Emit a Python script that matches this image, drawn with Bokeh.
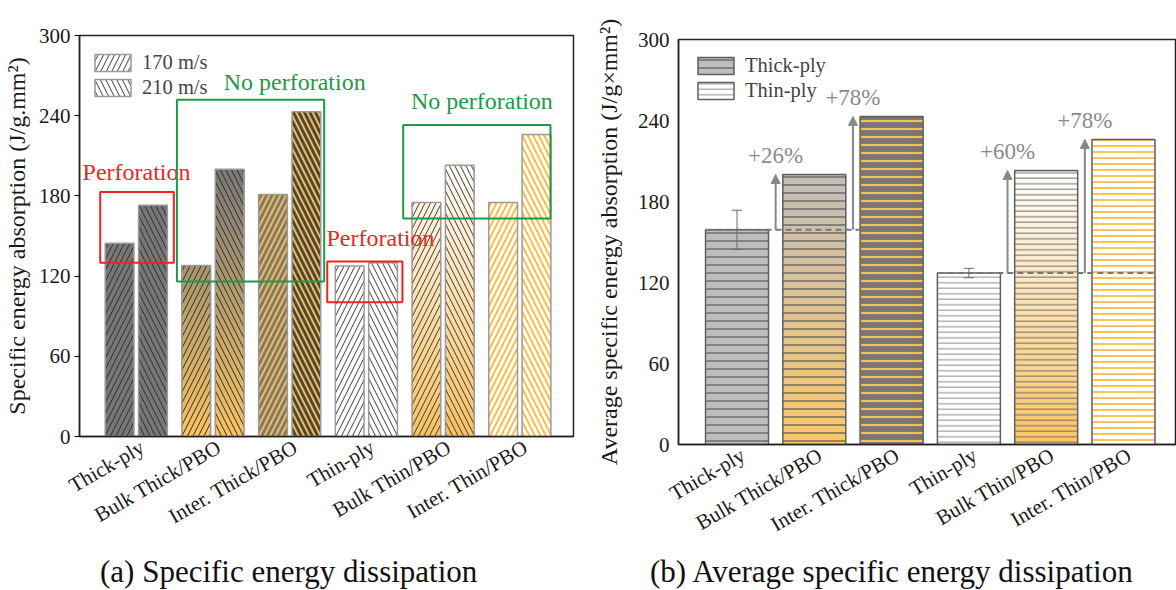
import math
from bokeh.plotting import figure
from bokeh.models import (Range1d, FixedTicker, Legend, LegendItem, BoxAnnotation,
                          ColumnDataSource, Whisker, TeeHead, Arrow, NormalHead, Label,
                          Spacer, Div)
from bokeh.layouts import row, column
from bokeh.embed import file_html
from bokeh.resources import INLINE

FONT = "Liberation Serif"

# ---------------- data ----------------
categories = ["Thick-ply", "Bulk Thick/PBO", "Inter. Thick/PBO",
              "Thin-ply", "Bulk Thin/PBO", "Inter. Thin/PBO"]
sea_170 = [144.5, 128, 181, 127.5, 175, 175]
sea_210 = [173, 200, 243, 130, 203, 226]
avg_sea = [159, 200, 243, 127, 203, 226]
avg_err = [14.5, 0, 0, 3.5, 0, 0]
gain_labels = ["+26%", "+78%", "+60%", "+78%"]
gain_bases = [0, 0, 3, 3]
gain_targets = [1, 2, 4, 5]
y_ticks = [0, 60, 120, 180, 240, 300]
speed_labels = ["170 m/s", "210 m/s"]
ply_labels = ["Thick-ply", "Thin-ply"]
perf_groups = [[0], [3]]
noperf_groups = [[1, 2], [4, 5]]
captions = ["(a) Specific energy dissipation", "(b) Average specific energy dissipation"]
y_titles = ["Specific energy absorption (J/g.mm\u00b2)",
            "Average specific energy absorption (J/g\u00d7mm\u00b2)"]

LABEL_SHIFT = 0.08  # horizontal nudge of the rotated category labels
BOTTOM = 110        # bottom border of both figures (room for rotated labels)


def hex2rgb(h):
    h = h.lstrip("#")
    return tuple(int(h[i:i + 2], 16) for i in (0, 2, 4))


def lerp(c0, c1, t):
    a, b = hex2rgb(c0), hex2rgb(c1)
    return "#%02x%02x%02x" % tuple(int(round(a[k] + (b[k] - a[k]) * t)) for k in range(3))


def gradient_bars(p, xs, tops, width, c_bottom, c_top, H, n=48):
    x, b, t, c = [], [], [], []
    for xi, top in zip(xs, tops):
        for k in range(n):
            x.append(xi)
            b.append(top * k / n)
            t.append(top)
            c.append(lerp(c_bottom, c_top, min(1.0, (top * (k + 0.5) / n) / H)))
    src = ColumnDataSource(dict(x=x, bottom=b, top=t, color=c))
    p.vbar(x="x", bottom="bottom", top="top", width=width, fill_color="color",
           line_color=None, source=src)


def bar(p, xs, tops, width, fill, hatch, hcolor, hscale, hweight, lcolor, lwidth):
    src = ColumnDataSource(dict(x=xs, top=tops))
    return p.vbar(x="x", top="top", width=width, source=src,
                  fill_color=fill, fill_alpha=1.0 if fill else 0.0,
                  hatch_pattern=hatch, hatch_color=hcolor, hatch_scale=hscale,
                  hatch_weight=hweight, line_color=lcolor, line_width=lwidth)


def style_axes(p, label_pad, ticks_out, title_pad):
    p.xgrid.visible = False
    p.ygrid.visible = False
    p.outline_line_color = "#222222"
    p.outline_line_width = 1.5
    for ax in (p.xaxis, p.yaxis):
        ax.axis_line_color = "#222222"
        ax.axis_line_width = 1.5
        ax.minor_tick_line_color = None
        ax.major_label_text_font = FONT
        ax.major_label_text_font_size = "21px"
        ax.major_label_text_color = "#1a1a1a"
        ax.axis_label_text_font = FONT
        ax.axis_label_text_font_size = "24px"
        ax.axis_label_text_font_style = "normal"
        ax.axis_label_text_color = "#1a1a1a"
    ticks = [i + LABEL_SHIFT for i in range(len(categories))]
    p.xaxis.ticker = FixedTicker(ticks=ticks)
    p.xaxis.major_label_overrides = {t: c for t, c in zip(ticks, categories)}
    p.xaxis.major_label_orientation = math.pi / 6
    p.xaxis.major_tick_line_color = None
    p.xaxis.major_label_standoff = 3
    p.yaxis.ticker = FixedTicker(ticks=y_ticks)
    p.yaxis.major_tick_out = ticks_out
    p.yaxis.major_tick_in = 0
    if ticks_out == 0:
        p.yaxis.major_tick_line_color = None
    p.yaxis.major_label_standoff = label_pad
    p.yaxis.axis_label_standoff = title_pad


def caption_div(text, pad_left):
    return Div(text=text, width=588, height=36, margin=0,
               styles={"font-family": "'Liberation Serif', serif", "font-size": "31px",
                       "line-height": "36px", "color": "#111111",
                       "padding-left": "%dpx" % pad_left, "white-space": "nowrap",
                       "box-sizing": "border-box"})


def make_legend(items, margin, top_gap):
    return Legend(items=items, location="top_left", margin=margin, padding=0, spacing=2,
                  glyph_width=45, glyph_height=21, label_height=21, label_standoff=7,
                  label_text_font=FONT, label_text_font_size="20.5px",
                  title=" " if top_gap else None, title_text_font_size="1px",
                  title_standoff=top_gap,
                  border_line_color=None, background_fill_alpha=0)


# ---------------- left chart ----------------
p1 = figure(width=588, height=436 + BOTTOM, x_range=Range1d(-0.74, 5.70), y_range=Range1d(0, 300),
            output_backend="svg", toolbar_location=None, title=None,
            min_border_left=77, min_border_right=15, min_border_top=35, min_border_bottom=BOTTOM)
style_axes(p1, 4, 5, 6)
p1.yaxis.axis_label = y_titles[0]

off = 0.2175
bw = 0.375
left_fill = {0: ("#777777", "#777777"), 2: ("#7a7a7a", "#474747"),
             3: ("#ffffff", "#ffffff"), 5: ("#ffffff", "#ffffff")}
left_grad = {1: ("#fbc45f", "#787878"), 4: ("#f9c160", "#fffdfa")}
left_hatch = {0: ("#2e2e2e", 1.0), 1: ("#2e2e2e", 1.0), 2: ("#f8bb45", 2.0),
              3: ("#3c3c3c", 1.0), 4: ("#3c3c3c", 1.0), 5: ("#fbbd45", 2.0)}
r170, r210 = {}, {}
for i in range(len(categories)):
    xa, xb = i - off, i + off
    if i in left_grad:
        H = max(sea_170[i], sea_210[i])
        gradient_bars(p1, [xa, xb], [sea_170[i], sea_210[i]], bw, left_grad[i][0], left_grad[i][1], H)
        fa = fb = None
    else:
        fa, fb = left_fill[i]
    hc, hw = left_hatch[i]
    r170[i] = bar(p1, [xa], [sea_170[i]], bw, fa, "/", hc, 11, hw, "#9a9a9a", 1.5)
    r210[i] = bar(p1, [xb], [sea_210[i]], bw, fb, "\\", hc, 11, hw, "#9a9a9a", 1.5)

# perforation / no perforation boxes
box_specs = [
    (perf_groups[0], 0.47, 0.49, 14.5, 10, "#ee2424", "Perforation", -0.70, 15),
    (noperf_groups[0], 0.47, 0.45, 12, 9, "#1c9a48", "No perforation", 1.14, 13.5),
    (perf_groups[1], 0.51, 0.47, 27, 1, "#ee2424", "Perforation", 2.48, 17.5),
    (noperf_groups[1], 0.52, 0.40, 12, 7, "#1c9a48", "No perforation", 3.58, 18),
]
for grp, pl, pr, plo, phi, col, txt, tx, ty in box_specs:
    vals = [sea_170[i] for i in grp] + [sea_210[i] for i in grp]
    top = max(vals) + phi
    p1.add_layout(BoxAnnotation(left=min(grp) - pl, right=max(grp) + pr,
                                bottom=min(vals) - plo, top=top,
                                fill_color=None, fill_alpha=0, line_color=col,
                                line_width=2, line_alpha=1.0))
    p1.add_layout(Label(x=tx, y=top + ty, text=txt, text_font=FONT, text_font_size="24px",
                        text_color=col, text_align="left", text_baseline="middle"))

leg1 = make_legend([LegendItem(label=speed_labels[0], renderers=[r170[3]]),
                    LegendItem(label=speed_labels[1], renderers=[r210[3]])], 11, 4)
p1.add_layout(leg1)

# ---------------- right chart ----------------
p2 = figure(width=588, height=440 + BOTTOM, x_range=Range1d(-0.757, 5.686), y_range=Range1d(0, 300),
            output_backend="svg", toolbar_location=None, title=None,
            min_border_left=90, min_border_right=0, min_border_top=35, min_border_bottom=BOTTOM)
style_axes(p2, 9, 0, 13)
p2.yaxis.axis_label = y_titles[1]

bw2 = 0.815
right_fill = {0: "#bdbdbd", 2: "#767676", 3: "#ffffff", 5: "#ffffff"}
right_grad = {1: ("#fdc866", "#c2beb9"), 4: ("#fcc563", "#ffffff")}
right_hatch = {0: ("#5a5a5a", 8, 1.2), 1: ("#555555", 8, 1.2), 2: ("#f7c04f", 8, 2.2),
               3: ("#8a8a8a", 5.5, 1.0), 4: ("#6a6a6a", 5.5, 1.0), 5: ("#fcc35a", 6, 2.0)}
rr = {}
for i in range(len(categories)):
    if i in right_grad:
        gradient_bars(p2, [i], [avg_sea[i]], bw2, right_grad[i][0], right_grad[i][1], avg_sea[i])
        f = None
    else:
        f = right_fill[i]
    hc, hs, hw = right_hatch[i]
    rr[i] = bar(p2, [i], [avg_sea[i]], bw2, f, "-", hc, hs, hw, "#5e5e5e", 1.5)

# dashed reference lines
seg_x0, seg_x1, seg_y = [], [], []
for b in sorted(set(gain_bases)):
    tg = [t for bb, t in zip(gain_bases, gain_targets) if bb == b]
    seg_x0.append(b - bw2 / 2)
    seg_x1.append(max(tg) + bw2 / 2)
    seg_y.append(avg_sea[b])
p2.segment(x0=seg_x0, y0=seg_y, x1=seg_x1, y1=seg_y, line_color="#777777",
           line_width=2, line_dash="6 4")

# error bars
ei = [i for i, e in enumerate(avg_err) if e > 0]
esrc = ColumnDataSource(dict(x=ei, lo=[avg_sea[i] - avg_err[i] for i in ei],
                             hi=[avg_sea[i] + avg_err[i] for i in ei]))
p2.add_layout(Whisker(base="x", lower="lo", upper="hi", source=esrc, dimension="height",
                      line_color="#6a6a6a", line_width=1, level="overlay",
                      upper_head=TeeHead(size=10, line_color="#6a6a6a", line_width=1),
                      lower_head=TeeHead(size=10, line_color="#6a6a6a", line_width=1)))

# gain arrows
asrc = ColumnDataSource(dict(x=[t - 0.5 for t in gain_targets],
                             y0=[avg_sea[b] for b in gain_bases],
                             y1=[avg_sea[t] for t in gain_targets]))
p2.add_layout(Arrow(source=asrc, x_start="x", y_start="y0", x_end="x", y_end="y1",
                    line_color="#888888", line_width=2,
                    end=NormalHead(size=9, fill_color="#888888", line_color="#888888")))
for lab, t in zip(gain_labels, gain_targets):
    p2.add_layout(Label(x=t - 0.5, y=avg_sea[t] + 14, text=lab, text_font=FONT,
                        text_font_size="23px", text_color="#8a8a8a",
                        text_align="center", text_baseline="middle"))

leg2 = make_legend([LegendItem(label=ply_labels[0], renderers=[rr[0]]),
                    LegendItem(label=ply_labels[1], renderers=[rr[3]])], 15, 0)
p2.add_layout(leg2)

charts = row(p1, column(Spacer(width=588, height=4), p2, spacing=0), spacing=0)
caps = row(caption_div(captions[0], 100), caption_div(captions[1], 62), spacing=0)
layout = column(charts, caps, spacing=0)
open("out.html", "w").write(file_html(layout, INLINE))
